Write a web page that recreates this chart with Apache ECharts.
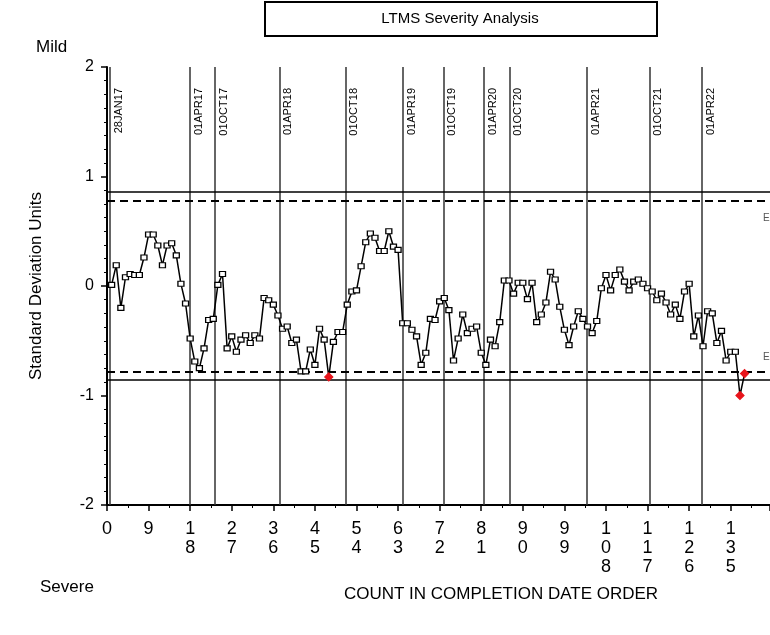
<!DOCTYPE html>
<html>
<head>
<meta charset="utf-8" />
<title>LTMS Severity Analysis</title>
<script src="https://cdn.jsdelivr.net/npm/echarts@6/dist/echarts.min.js"></script>
<style>
  body { margin: 0; background: #fff; }
  #box { width: 770px; height: 635px; }
</style>
</head>
<body>
<div id="box"></div>
<script>
// severity (standard deviation units), in completion order, count 1..138
var severity = [
  0.01, 0.19, -0.20, 0.08, 0.11, 0.10, 0.10, 0.26, 0.47, 0.47,
  0.37, 0.19, 0.37, 0.39, 0.28, 0.02, -0.16, -0.48, -0.69, -0.75,
  -0.57, -0.31, -0.30, 0.01, 0.11,
  -0.57, -0.46, -0.60, -0.49, -0.45, -0.52, -0.45, -0.48, -0.11, -0.13,
  -0.17, -0.27, -0.39, -0.37, -0.52, -0.49, -0.78, -0.78, -0.58, -0.72,
  -0.39, -0.49, -0.83, -0.51, -0.42, -0.42,
  -0.17, -0.05, -0.04, 0.18, 0.40, 0.48, 0.44, 0.32, 0.32, 0.50,
  0.36, 0.33, -0.34, -0.34, -0.40, -0.46, -0.72, -0.61, -0.30, -0.31,
  -0.14, -0.11, -0.22, -0.68, -0.48, -0.26,
  -0.43, -0.39, -0.37, -0.61, -0.72, -0.49, -0.55, -0.33, 0.05, 0.05,
  -0.07, 0.03, 0.03, -0.12, 0.03, -0.33, -0.26, -0.15, 0.13, 0.06,
  -0.19, -0.40, -0.54, -0.37, -0.23,
  -0.30, -0.37, -0.43, -0.32, -0.02, 0.10, -0.04, 0.10, 0.15, 0.04,
  -0.04, 0.04, 0.06, 0.02, -0.02, -0.05, -0.13, -0.07, -0.15, -0.26,
  -0.17, -0.30, -0.05, 0.02,
  -0.46, -0.27, -0.55, -0.23, -0.25, -0.52, -0.41, -0.68, -0.60, -0.60,
  -1.00, -0.80
];

// date markers (position on the count axis)
var dateLabels = ['28JAN17', '01APR17', '01OCT17', '01APR18', '01OCT18', '01APR19',
  '01OCT19', '01APR20', '01OCT20', '01APR21', '01OCT21', '01APR22'];
var datePos = [0.65, 17.96, 23.4, 37.4, 51.7, 64.1, 72.9, 81.6, 87.2, 103.9, 117.5, 128.8];

// limits
var solidLimits = [0.858, -0.858];
var dashedLimits = [0.776, -0.776];
var alarmLevel = -0.79;

var font = 'Liberation Sans, Arial, sans-serif';

var points = severity.map(function (v, i) {
  var item = { value: [i + 1, v] };
  if (v < alarmLevel) {
    item.symbol = 'diamond';
    item.symbolSize = 8;
    item.itemStyle = { color: '#e8141b', borderColor: '#e8141b' };
  }
  return item;
});

var chart = echarts.init(document.getElementById('box'));

var option = {
  animation: false,
  textStyle: { fontFamily: font },
  grid: { left: 107, right: 0, top: 67, bottom: 130 },
  graphic: [
    {
      type: 'rect',
      shape: { x: 265, y: 2, width: 392, height: 34 },
      style: { fill: '#fff', stroke: '#000', lineWidth: 2 }
    },
    {
      type: 'text', x: 460, y: 19,
      style: { text: 'LTMS Severity Analysis', font: '15px ' + font, fill: '#000',
        textAlign: 'center', textVerticalAlign: 'middle' }
    },
    {
      type: 'text', x: 36, y: 47,
      style: { text: 'Mild', font: '17px ' + font, fill: '#000', textVerticalAlign: 'middle' }
    },
    {
      type: 'text', x: 40, y: 587,
      style: { text: 'Severe', font: '17px ' + font, fill: '#000', textVerticalAlign: 'middle' }
    },
    {
      type: 'text', x: 501, y: 594,
      style: { text: 'COUNT IN COMPLETION DATE ORDER', font: '17px ' + font, fill: '#000',
        textAlign: 'center', textVerticalAlign: 'middle' }
    },
    {
      type: 'text', x: 763, y: 218,
      style: { text: 'E', font: '10px ' + font, fill: '#555', textVerticalAlign: 'middle' }
    },
    {
      type: 'text', x: 763, y: 357,
      style: { text: 'E', font: '10px ' + font, fill: '#555', textVerticalAlign: 'middle' }
    }
  ],
  xAxis: {
    type: 'value',
    min: 0,
    max: 143.5,
    interval: 9,
    axisLine: { onZero: false, lineStyle: { color: '#000', width: 2 } },
    axisTick: { length: 6, lineStyle: { color: '#000', width: 1.5 } },
    minorTick: { show: true, splitNumber: 2, length: 3, lineStyle: { color: '#000' } },
    splitLine: { show: false },
    axisLabel: {
      color: '#000', fontSize: 18, lineHeight: 19, margin: 15,
      showMaxLabel: false,
      formatter: function (v) { return String(v).split('').join('\n'); }
    }
  },
  yAxis: {
    type: 'value',
    min: -2,
    max: 2,
    interval: 1,
    name: 'Standard Deviation Units',
    nameLocation: 'middle',
    nameGap: 62,
    nameTextStyle: { color: '#000', fontSize: 17 },
    axisLine: { show: true, lineStyle: { color: '#000', width: 2 } },
    axisTick: { show: true, length: 6, lineStyle: { color: '#000', width: 1.5 } },
    minorTick: { show: true, splitNumber: 8, length: 3, lineStyle: { color: '#000' } },
    splitLine: { show: false },
    axisLabel: { color: '#000', fontSize: 16, margin: 13 }
  },
  series: [
    {
      // vertical date lines
      type: 'line',
      data: [],
      silent: true,
      markLine: {
        silent: true,
        symbol: ['none', 'none'],
        lineStyle: { color: '#333', width: 1.5, type: 'solid' },
        label: {
          show: true,
          position: 'insideEndBottom',
          distance: [21, 3],
          formatter: '{b}',
          color: '#000',
          fontSize: 11
        },
        data: datePos.map(function (p, i) {
          return [{ name: dateLabels[i], coord: [p, -2] }, { coord: [p, 2] }];
        })
      }
    },
    {
      // control limits
      type: 'line',
      data: [],
      silent: true,
      markLine: {
        silent: true,
        symbol: ['none', 'none'],
        label: { show: false },
        data: solidLimits.map(function (y) {
          return { yAxis: y, lineStyle: { color: '#000', width: 1.5, type: 'solid' } };
        }).concat(dashedLimits.map(function (y) {
          return { yAxis: y, lineStyle: { color: '#000', width: 2, type: [8, 5] } };
        }))
      }
    },
    {
      name: 'Severity',
      type: 'line',
      data: points,
      showAllSymbol: true,
      symbol: 'rect',
      symbolSize: [6, 5],
      lineStyle: { color: '#000', width: 1.5 },
      itemStyle: { color: '#fff', borderColor: '#000', borderWidth: 1.2 },
      z: 5
    }
  ]
};

chart.setOption(option);
</script>
</body>
</html>
